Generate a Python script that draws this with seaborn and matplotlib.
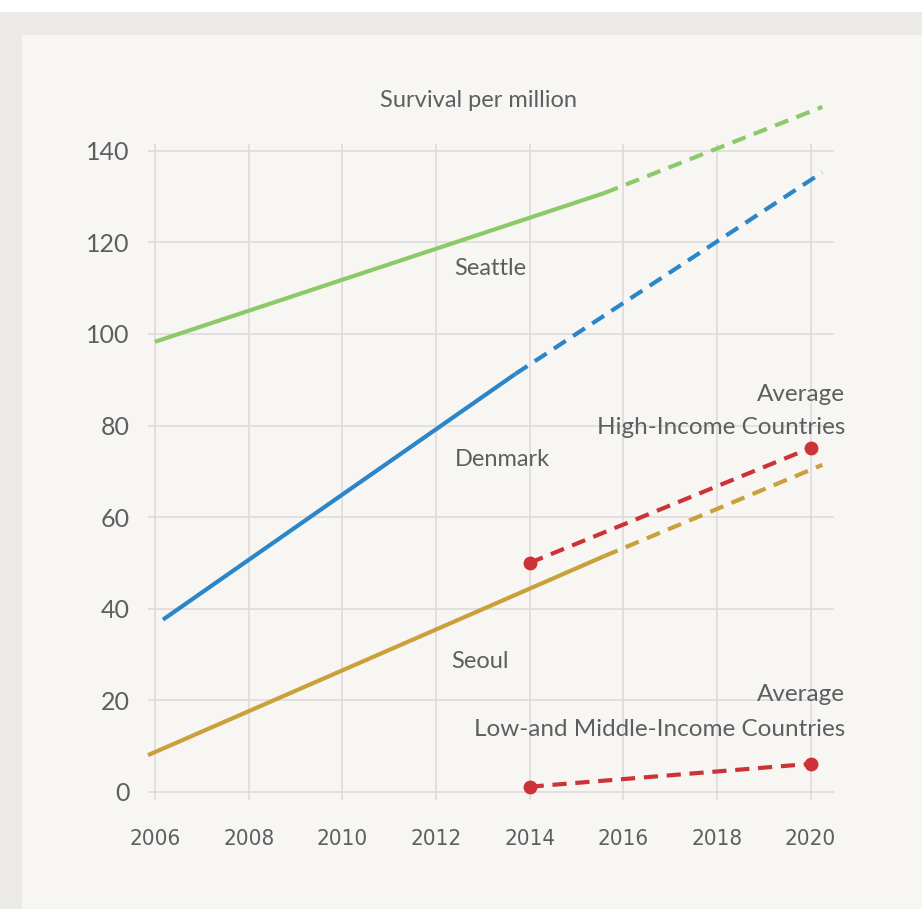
import matplotlib
matplotlib.use("Agg")
import matplotlib.pyplot as plt
import seaborn as sns
import pandas as pd
from matplotlib.patches import Rectangle

# ---- data ----
seattle_solid_x = [2006.0, 2015.6]
seattle_solid_y = [98.3, 130.8]
seattle_proj_x = [2015.6, 2020.25]
seattle_proj_y = [130.8, 149.6]

denmark_solid_x = [2006.17, 2013.7]
denmark_solid_y = [37.6, 91.3]
denmark_proj_x = [2013.7, 2020.25]
denmark_proj_y = [91.3, 135.3]

seoul_solid_x = [2005.85, 2015.6]
seoul_solid_y = [8.0, 51.5]
seoul_proj_x = [2015.6, 2020.25]
seoul_proj_y = [51.5, 71.4]

hic_x = [2014, 2020]
hic_y = [50.0, 75.1]
lmic_x = [2014, 2020]
lmic_y = [1.1, 6.1]

x_ticks = [2006, 2008, 2010, 2012, 2014, 2016, 2018, 2020]
y_ticks = [0, 20, 40, 60, 80, 100, 120, 140]

title = "Survival per million"

GREEN = "#8cc96a"
BLUE = "#2a86c8"
GOLD = "#c9a03a"
RED = "#cc3338"
TEXT = "#5c5f61"
PANEL = "#f7f6f3"
BAND = "#ebeae6"

sns.set_theme(style="whitegrid")
plt.rcParams['font.family'] = ['Lato', 'DejaVu Sans']

fig = plt.figure(figsize=(9.22, 9.09), dpi=100)
fig.patch.set_facecolor("white")
W, H = 922, 909
fig.patches.append(Rectangle((0, 0), 1, 1 - 12 / H, transform=fig.transFigure,
                             facecolor=BAND, edgecolor="none", zorder=-10))
fig.patches.append(Rectangle((22 / W, 0), 1, 1 - 35 / H, transform=fig.transFigure,
                             facecolor=PANEL, edgecolor="none", zorder=-9))

left_px, right_px = 148, 834
top_px, bot_px = 144, 800
ax = fig.add_axes([left_px / W, 1 - bot_px / H, (right_px - left_px) / W, (bot_px - top_px) / H])
ax.set_facecolor(PANEL)

lw = 3.0
dash = (3.4, 2.1)

def seg(x, y, color, dashed=False, **kw):
    df = pd.DataFrame({"x": x, "y": y})
    line_kw = dict(color=color, linewidth=lw, solid_capstyle="butt", dash_capstyle="butt",
                   clip_on=False)
    if dashed:
        line_kw["dashes"] = dash
    sns.lineplot(data=df, x="x", y="y", ax=ax, **line_kw, **kw)

seg(seattle_solid_x, seattle_solid_y, GREEN)
seg(seattle_proj_x, seattle_proj_y, GREEN, dashed=True)
seg(denmark_solid_x, denmark_solid_y, BLUE)
seg(denmark_proj_x, denmark_proj_y, BLUE, dashed=True)
seg(seoul_solid_x, seoul_solid_y, GOLD)
seg(seoul_proj_x, seoul_proj_y, GOLD, dashed=True)
seg(hic_x, hic_y, RED, dashed=True, marker="o", markersize=10, markeredgewidth=0)
seg(lmic_x, lmic_y, RED, dashed=True, marker="o", markersize=10, markeredgewidth=0)

ax.set_xlim(2005.85, 2020.5)
ax.set_ylim(-1.8, 141.5)
ax.set_xticks(x_ticks)
ax.set_yticks(y_ticks)
ax.set_xticklabels([str(t) for t in x_ticks], family=['DejaVu Sans'], stretch='condensed',
                   fontsize=16, color=TEXT)
ax.set_yticklabels([str(t) for t in y_ticks], fontsize=18, color=TEXT)
ax.tick_params(axis="x", length=0, pad=21)
ax.tick_params(axis="y", length=0, pad=13)
ax.grid(True, color="#dddcda", linewidth=1.2)
for s in ax.spines.values():
    s.set_visible(False)
ax.set_xlabel("")
ax.set_ylabel("")

tkw = dict(color=TEXT, clip_on=False)
ax.text(2012.9, 151.1, title, ha="center", va="center", fontsize=17, **tkw)
ax.text(2013.16, 114.4, "Seattle", ha="center", va="center", fontsize=17, **tkw)
ax.text(2013.41, 72.5, "Denmark", ha="center", va="center", fontsize=17, **tkw)
ax.text(2012.94, 28.4, "Seoul", ha="center", va="center", fontsize=17, **tkw)
ax.text(2020.74, 86.7, "Average", ha="right", va="center", fontsize=17.5, **tkw)
ax.text(2020.74, 79.5, "High-Income Countries", ha="right", va="center", fontsize=17.5, **tkw)
ax.text(2020.74, 21.2, "Average", ha="right", va="center", fontsize=17.5, **tkw)
ax.text(2020.74, 13.5, "Low-and Middle-Income Countries", ha="right", va="center", fontsize=17.5, **tkw)

fig.savefig("out.png", dpi=100, facecolor=fig.get_facecolor())
